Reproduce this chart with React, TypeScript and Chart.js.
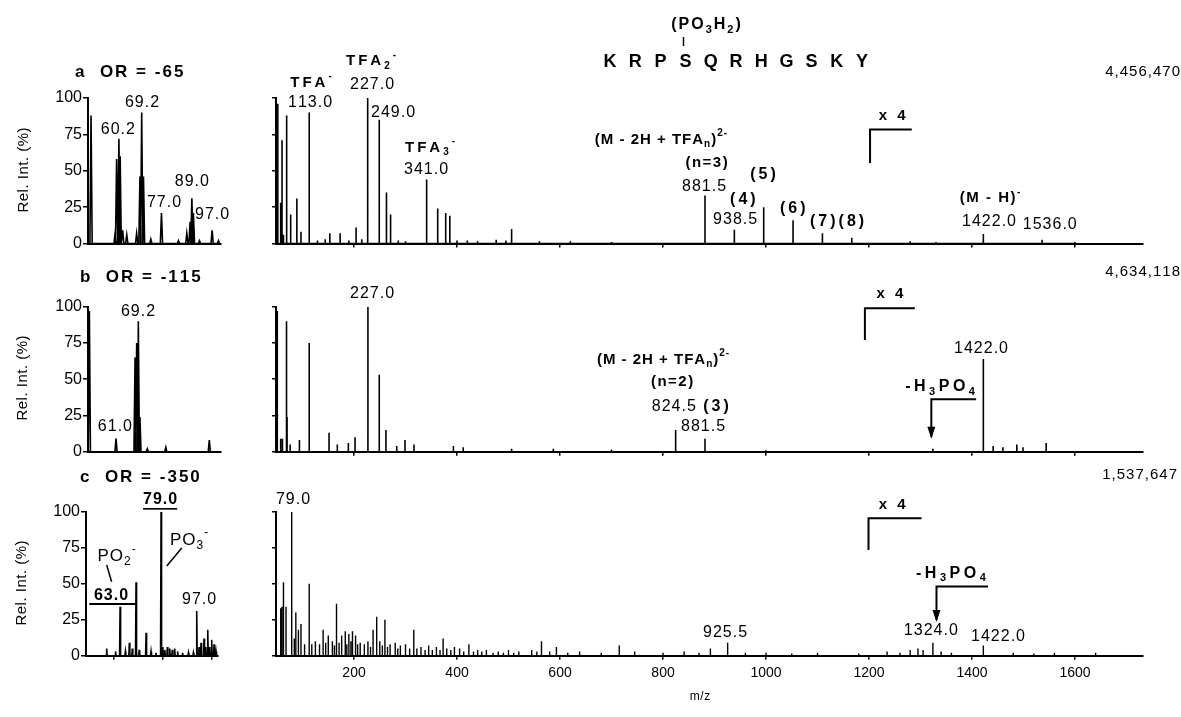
import React, { useEffect, useRef } from 'react';
import { Chart, registerables } from 'chart.js';

Chart.register(...registerables);

const PAGE_W = 1181;
const PAGE_H = 717;
const FONT = '"Liberation Sans", Arial, Helvetica, sans-serif';

// ---------- axis ticks ----------
const REL_INT_TICKS = [0, 25, 50, 75, 100];
const MZ_TICKS = [200, 400, 600, 800, 1000, 1200, 1400, 1600];
const LOW_MZ_TICKS_C = [55, 80, 105];
const NO_TICKS: number[] = [];

// ---------- peak lists: [m/z, relative intensity %] ----------
type Peak = [number, number];

const lowMzA: Peak[] = [
  [49.2, 88], [58.7, 7], [59.3, 58], [60.2, 72], [60.7, 60], [61.7, 9], [63.3, 6], [67.2, 7],
  [68.5, 46], [69.2, 90], [69.9, 46], [72.8, 3], [77.0, 21], [83.7, 2], [87.0, 7], [88.3, 15],
  [89.0, 31], [89.6, 21], [92.0, 2], [97.0, 9], [99.5, 2],
];

const fullMzA: Peak[] = [
  [52, 96], [57.6, 28], [60.2, 71], [63, 6], [69.2, 88], [77, 20], [89, 31], [97, 8], [113, 90],
  [129, 2], [144, 3], [153, 7], [173, 7], [190, 2], [204, 11], [215, 3], [225.8, 86], [227, 100],
  [249, 85], [263, 35], [271, 20], [286, 2], [300, 1.5], [341, 44], [362.5, 24], [378, 21],
  [386, 19], [400, 2], [420, 2], [440, 1.5], [476, 2.5], [495, 2], [506, 10], [560, 1.5],
  [620, 1.5], [700, 1], [881.5, 33], [938.5, 9.5], [995.5, 25], [1052.5, 16], [1109.5, 7],
  [1166.5, 4], [1280, 1.5], [1330, 1], [1422, 6.5], [1536, 2.5], [1600, 1],
];

const lowMzB: Peak[] = [
  [51.2, 97], [61.0, 9], [68.0, 65], [68.6, 75], [69.2, 90], [69.8, 24], [72.5, 2], [79.3, 3], [95.3, 8],
];

const fullMzB: Peak[] = [
  [51, 97], [57.6, 9], [61, 9], [68.5, 75], [69.2, 90], [70, 24], [76, 5], [94, 8], [113, 75],
  [151.5, 13], [167.6, 5], [189, 6], [202, 10], [227, 100], [249, 53], [262, 15], [283, 4],
  [299, 8], [316.5, 5], [393, 4], [412, 3], [506, 2], [587, 2], [700, 1.5], [824.5, 15],
  [881.5, 9], [1000, 1], [1324, 2], [1422, 64], [1441, 4], [1460, 3], [1487, 5], [1499, 3], [1544, 6],
];

const lowMzC: Peak[] = [
  [51.5, 5], [56, 3], [58.3, 34], [61, 3], [63.0, 9], [64.5, 5], [66.4, 51], [68, 4], [71.5, 16],
  [74, 3], [76.5, 2], [79.1, 100], [80, 6], [81, 4], [82.3, 6], [83.5, 5], [84.8, 4], [86, 5],
  [87.5, 3], [90, 2], [93, 2], [95.5, 2], [97.2, 31], [98.4, 6], [99.4, 9], [100.9, 12],
  [101.8, 6], [102.8, 18], [103.8, 6], [104.8, 11], [106, 8], [107, 3],
];

const fullMzC: Peak[] = [
  [57.7, 33], [60, 34], [63, 51], [68, 34], [79, 100], [84, 12], [87, 30], [92, 18], [97, 22], [104, 8],
  [113, 50], [118, 8], [125, 10], [133, 8], [140, 18], [145, 9], [150, 14], [158, 10], [162, 7], [166, 36],
  [171, 9], [176, 14], [183, 17], [186, 8], [190, 15], [194, 10], [197, 17], [203, 14], [207, 8], [212, 9],
  [220, 8], [227, 10], [232, 6], [237, 18], [244, 27], [250, 10], [255, 7], [260, 25], [265, 6], [270, 8],
  [280, 9], [285, 5], [290, 7], [300, 8], [308, 5], [316, 18], [322, 5], [330, 6], [338, 4], [345, 7],
  [352, 4], [360, 6], [367, 4], [373, 12], [380, 5], [388, 4], [395, 6], [405, 5], [413, 3], [423, 8],
  [432, 3], [440, 4], [448, 3], [457, 4], [470, 2], [480, 3], [490, 2], [500, 4], [510, 2], [520, 3],
  [545, 4], [555, 3], [564, 10], [580, 3], [593, 6], [615, 2], [638, 3], [680, 2], [715, 7], [745, 3],
  [800, 2], [841, 3], [870, 2], [892, 5], [925.5, 9], [960, 2], [1000, 2], [1050, 1.5], [1100, 2],
  [1180, 1.5], [1235, 3], [1260, 2], [1280, 4], [1295, 5], [1305, 4], [1324, 9], [1340, 3], [1360, 2],
  [1422, 7], [1480, 2], [1520, 1.5], [1560, 2], [1640, 2],
];

const PEPTIDE = 'KRPSQRHGSKY';
const TOTALS = ['4,456,470', '4,634,118', '1,537,647'];
const TITLES = ['a  OR = -65', 'b  OR = -115', 'c  OR = -350'];

// ---------- annotation helpers ----------
type TextAnn = {
  kind: 't'; text: string; x: number; y: number; px?: boolean; size?: number; bold?: boolean;
  align?: 'left' | 'center' | 'right'; sp?: number; ul?: boolean; rot?: number;
};
type LineAnn = { kind: 'l'; pts: [number, number][]; px?: boolean; w?: number; arrow?: boolean };
type Ann = TextAnn | LineAnn;

const T = (text: string, x: number, y: number, o: Partial<TextAnn> = {}): Ann => ({ kind: 't', text, x, y, ...o });
const L = (pts: [number, number][], o: Partial<LineAnn> = {}): Ann => ({ kind: 'l', pts, ...o });

const BOLD = { bold: true, size: 15, sp: 1.5 };
const WIDE = { bold: true, size: 15, sp: 3 };
const PAREN = { bold: true, size: 16, sp: 3 };
const LOSS = { bold: true, size: 16, sp: 3.5 };
const TITLE = { px: true, bold: true, size: 17, sp: 2, align: 'left' as const };

function parseRich(s: string) {
  const segs: { t: string; mode: number }[] = [];
  let i = 0;
  while (i < s.length) {
    const c = s[i];
    if ((c === '_' || c === '^') && i + 1 < s.length) {
      const mode = c === '_' ? -1 : 1;
      let t: string;
      if (s[i + 1] === '{') {
        const j = s.indexOf('}', i + 2);
        t = s.slice(i + 2, j);
        i = j + 1;
      } else {
        t = s[i + 1];
        i += 2;
      }
      segs.push({ t, mode });
    } else {
      let j = i;
      while (j < s.length && s[j] !== '_' && s[j] !== '^') j++;
      segs.push({ t: s.slice(i, j), mode: 0 });
      i = j;
    }
  }
  return segs;
}

function drawRich(ctx: CanvasRenderingContext2D, a: TextAnn, X: number, Y: number) {
  const size = a.size ?? 16;
  const weight = a.bold ? 'bold ' : '';
  const sp = a.sp ?? 1;
  const items: { ch: string; fs: number; dy: number; x: number }[] = [];
  let w = 0;
  for (const s of parseRich(a.text)) {
    const fs = s.mode === 0 ? size : Math.round(size * 0.68);
    ctx.font = `${weight}${fs}px ${FONT}`;
    for (const ch of s.t) {
      const cw = ctx.measureText(ch).width;
      items.push({ ch, fs, dy: s.mode === 0 ? 0 : s.mode > 0 ? -size * 0.42 : size * 0.32, x: w });
      w += cw + sp;
    }
  }
  w -= sp;
  const align = a.align ?? 'center';
  const x0 = align === 'left' ? 0 : align === 'right' ? -w : -w / 2;
  ctx.save();
  ctx.translate(X, Y);
  if (a.rot) ctx.rotate((a.rot * Math.PI) / 180);
  ctx.fillStyle = '#000';
  ctx.textBaseline = 'middle';
  ctx.textAlign = 'left';
  for (const it of items) {
    ctx.font = `${weight}${it.fs}px ${FONT}`;
    ctx.fillText(it.ch, x0 + it.x, it.dy);
  }
  if (a.ul) ctx.fillRect(x0, size * 0.5, w, 1.6);
  ctx.restore();
}

function drawLine(ctx: CanvasRenderingContext2D, pts: [number, number][], w: number, arrow?: boolean) {
  ctx.save();
  ctx.strokeStyle = '#000';
  ctx.fillStyle = '#000';
  ctx.lineWidth = w;
  ctx.beginPath();
  pts.forEach(([x, y], i) => (i ? ctx.lineTo(x, y) : ctx.moveTo(x, y)));
  ctx.stroke();
  if (arrow && pts.length > 1) {
    const [x1, y1] = pts[pts.length - 1];
    const [x0, y0] = pts[pts.length - 2];
    const ang = Math.atan2(y1 - y0, x1 - x0);
    const len = 10, hw = 4;
    ctx.beginPath();
    ctx.moveTo(x1 + Math.cos(ang) * 2, y1 + Math.sin(ang) * 2);
    ctx.lineTo(x1 - len * Math.cos(ang) + hw * Math.sin(ang), y1 - len * Math.sin(ang) - hw * Math.cos(ang));
    ctx.lineTo(x1 - len * Math.cos(ang) - hw * Math.sin(ang), y1 - len * Math.sin(ang) + hw * Math.cos(ang));
    ctx.closePath();
    ctx.fill();
  }
  ctx.restore();
}

function annotationPlugin(anns: Ann[]) {
  return {
    id: 'annots',
    afterDraw(chart: any) {
      const ctx: CanvasRenderingContext2D = chart.ctx;
      const xs = chart.scales.x;
      const ys = chart.scales.y;
      const toPx = (x: number, y: number, px?: boolean): [number, number] =>
        px ? [x, y] : [xs.getPixelForValue(x), ys.getPixelForValue(y)];
      for (const a of anns) {
        if (a.kind === 't') {
          const [X, Y] = toPx(a.x, a.y, a.px);
          drawRich(ctx, a, X, Y);
        } else {
          drawLine(ctx, a.pts.map(([x, y]) => toPx(x, y, a.px)), a.w ?? 2, a.arrow);
        }
      }
    },
  };
}

// ---------- annotations per panel ----------
const annLowA: Ann[] = [
  T(TITLES[0], 75, 72, TITLE),
  T('Rel. Int. (%)', 24, 170, { px: true, size: 15, sp: 0.5, rot: -90 }),
  T('60.2', 59.8, 78.3),
  T('69.2', 69.3, 96.9),
  T('77.0', 78, 27.9),
  T('89.0', 89, 42.4),
  T('97.0', 97, 19.7),
];

const annFullA: Ann[] = [
  T('TFA^-', 116.5, 110.5, WIDE),
  T('113.0', 114.6, 96.7),
  T('TFA_2^-', 233, 125.2, WIDE),
  T('227.0', 235, 109.3),
  T('249.0', 275.7, 89.8),
  T('TFA_3^-', 347.6, 65.7, WIDE),
  T('341.0', 339.8, 50.7),
  T('(M - 2H + TFA_n)^{2-}', 796, 71.4, { bold: true, size: 15, sp: 1 }),
  T('(n=3)', 884.5, 55.3, BOLD),
  T('881.5', 879.6, 39.2),
  T('(5)', 994, 47.2, PAREN),
  T('(4)', 955, 30.5, PAREN),
  T('938.5', 940, 16.2),
  T('(6)', 1052, 24.3, PAREN),
  T('(7)(8)', 1138, 15, PAREN),
  T('x 4', 1245, 87.4, WIDE),
  L([[1202, 55.3], [1202, 78.3], [1283, 78.3]], { w: 2 }),
  T('(M - H)^-', 1435, 31.2, BOLD),
  T('1422.0', 1433, 15),
  T('1536.0', 1551, 12.8),
  T(TOTALS[0], 1180, 72, { px: true, size: 15, align: 'right' }),
  T('(PO_3H_2)', 706, 25, { px: true, bold: true, size: 16, sp: 2 }),
  L([[683.5, 37], [683.5, 46]], { px: true, w: 1.5 }),
  ...PEPTIDE.split('').map((ch, i) => T(ch, 610 + i * 25.2, 62, { px: true, bold: true, size: 18, sp: 0 })),
];

const annLowB: Ann[] = [
  T(TITLES[1], 80, 277, TITLE),
  T('Rel. Int. (%)', 23, 378, { px: true, size: 15, sp: 0.5, rot: -90 }),
  T('69.2', 69.1, 96.4),
  T('61.0', 60.6, 17.2),
];

const annFullB: Ann[] = [
  T('227.0', 235, 109.2),
  T('(M - 2H + TFA_n)^{2-}', 800, 63.3, { bold: true, size: 15, sp: 1 }),
  T('(n=2)', 817.5, 48.3, BOLD),
  T('824.5', 821, 31),
  T('(3)', 903, 31, PAREN),
  T('881.5', 877.7, 17.2),
  T('-H_3PO_4', 1338, 44.7, LOSS),
  L([[1408, 36.1], [1321, 36.1], [1321, 10.3]], { w: 2, arrow: true }),
  T('1422.0', 1417.5, 71.3),
  T('x 4', 1240.8, 109.2, WIDE),
  L([[1192, 77], [1192, 98.9], [1289, 98.9]], { w: 2 }),
  T(TOTALS[1], 1180, 272, { px: true, size: 15, align: 'right' }),
];

const annLowC: Ann[] = [
  T(TITLES[2], 80, 477, TITLE),
  T('Rel. Int. (%)', 22, 583, { px: true, size: 15, sp: 0.5, rot: -90 }),
  T('79.0', 78.6, 108.1, { bold: true, size: 16, sp: 1, ul: true }),
  T('PO_3^-', 93.3, 80.4, { size: 17, sp: 1 }),
  L([[89.6, 74.8], [82, 62.3]], { w: 1.5 }),
  T('PO_2^-', 56.5, 68.8, { size: 17, sp: 1 }),
  L([[51.5, 63], [54, 51.4]], { w: 1.5 }),
  T('63.0', 53.7, 41.5, { bold: true, size: 16, sp: 1 }),
  L([[42.7, 35.9], [66.4, 35.9]], { w: 2 }),
  T('97.0', 98.4, 38.7),
];

const annFullC: Ann[] = [
  T('79.0', 81.6, 108.1),
  T('925.5', 920.4, 16),
  T('1324.0', 1320, 17.4),
  T('1422.0', 1450.5, 13.2),
  T('-H_3PO_4', 1359, 57.2, LOSS),
  L([[1431, 48], [1331, 48], [1331, 24.8]], { w: 2, arrow: true }),
  T('x 4', 1245, 104.7, WIDE),
  L([[1199, 73.4], [1199, 95.4], [1302, 95.4]], { w: 2 }),
  T(TOTALS[2], 1177, 475, { px: true, size: 15, align: 'right' }),
  T('m/z', 700, 697, { px: true, size: 12, sp: 0.5 }),
];

// ---------- panel layout ----------
type Rect = { l: number; t: number; r: number; b: number };

type PanelSpec = {
  peaks: Peak[];
  xMin: number;
  xMax: number;
  xTicks: number[];
  rect: Rect;
  yLabels: boolean;
  xLabels: boolean;
  halfWidth: number;
  lineWidth: number;
  anns: Ann[];
};

const PANELS: PanelSpec[] = [
  { peaks: lowMzA, xMin: 48, xMax: 100.5, xTicks: NO_TICKS, rect: { l: 88, t: 98, r: 221, b: 243.5 }, yLabels: true, xLabels: false, halfWidth: 0.45, lineWidth: 1.6, anns: annLowA },
  { peaks: fullMzA, xMin: 48.5, xMax: 1732, xTicks: MZ_TICKS, rect: { l: 276, t: 98, r: 1143, b: 243.5 }, yLabels: false, xLabels: false, halfWidth: 0, lineWidth: 1.6, anns: annFullA },
  { peaks: lowMzB, xMin: 50.7, xMax: 99.6, xTicks: NO_TICKS, rect: { l: 88, t: 306.7, r: 221, b: 451.7 }, yLabels: true, xLabels: false, halfWidth: 0.4, lineWidth: 1.6, anns: annLowB },
  { peaks: fullMzB, xMin: 48.5, xMax: 1732, xTicks: MZ_TICKS, rect: { l: 276, t: 306.7, r: 1143, b: 451.7 }, yLabels: false, xLabels: false, halfWidth: 0, lineWidth: 1.6, anns: annFullB },
  { peaks: lowMzC, xMin: 41, xMax: 108, xTicks: LOW_MZ_TICKS_C, rect: { l: 86, t: 511.7, r: 218, b: 655.7 }, yLabels: true, xLabels: false, halfWidth: 0.25, lineWidth: 1.6, anns: annLowC },
  { peaks: fullMzC, xMin: 48.5, xMax: 1732, xTicks: MZ_TICKS, rect: { l: 276, t: 511.7, r: 1143, b: 655.7 }, yLabels: false, xLabels: true, halfWidth: 0, lineWidth: 1.4, anns: annFullC },
];

const Y_AXIS_W = 40;
const X_AXIS_H = 30;

function Panel({ spec }: { spec: PanelSpec }) {
  const ref = useRef<HTMLCanvasElement>(null);
  useEffect(() => {
    if (!ref.current) return;
    const pts: { x: number; y: number }[] = [];
    const sorted = [...spec.peaks].sort((a, b) => a[0] - b[0]);
    for (const [m, h] of sorted) {
      pts.push({ x: m - spec.halfWidth, y: 0 }, { x: m, y: h }, { x: m + spec.halfWidth, y: 0 });
    }
    const r = spec.rect;
    const chart = new Chart(ref.current, {
      type: 'line',
      data: {
        datasets: [
          {
            data: pts,
            borderColor: '#000',
            borderWidth: spec.lineWidth,
            pointRadius: 0,
            tension: 0,
            fill: false,
          } as any,
        ],
      },
      options: {
        animation: false,
        responsive: false,
        devicePixelRatio: 1,
        events: [],
        layout: {
          padding: {
            left: r.l - Y_AXIS_W,
            top: r.t,
            right: PAGE_W - r.r,
            bottom: PAGE_H - r.b - X_AXIS_H,
          },
        },
        plugins: { legend: { display: false }, tooltip: { enabled: false }, title: { display: false } },
        scales: {
          x: {
            type: 'linear',
            min: spec.xMin,
            max: spec.xMax,
            afterBuildTicks: (ax: any) => {
              ax.ticks = spec.xTicks.map((v) => ({ value: v }));
            },
            afterFit: (ax: any) => {
              ax.height = X_AXIS_H;
            },
            grid: { display: true, drawOnChartArea: false, drawTicks: true, tickLength: 4, color: '#000', lineWidth: 1.5 },
            border: { display: true, color: '#000', width: 2 },
            ticks: {
              display: spec.xLabels,
              color: '#000',
              font: { family: FONT, size: 14 },
              padding: 5,
              maxRotation: 0,
              autoSkip: false,
              callback: (v: any) => String(v),
            },
          },
          y: {
            type: 'linear',
            min: 0,
            max: 100,
            afterBuildTicks: (ax: any) => {
              ax.ticks = REL_INT_TICKS.map((v) => ({ value: v }));
            },
            afterFit: (ax: any) => {
              ax.width = Y_AXIS_W;
            },
            grid: { display: true, drawOnChartArea: false, drawTicks: true, tickLength: spec.yLabels ? 5 : 4, color: '#000', lineWidth: 1.5 },
            border: { display: true, color: '#000', width: 2 },
            ticks: {
              display: spec.yLabels,
              color: '#000',
              font: { family: FONT, size: 16 },
              padding: 1,
              callback: (v: any) => String(v),
            },
          },
        },
      } as any,
      plugins: [annotationPlugin(spec.anns) as any],
    });
    return () => chart.destroy();
  }, [spec]);
  return (
    <canvas
      ref={ref}
      width={PAGE_W}
      height={PAGE_H}
      style={{ position: 'absolute', left: 0, top: 0, width: PAGE_W, height: PAGE_H }}
    />
  );
}

export default function App() {
  return (
    <div
      style={{
        position: 'absolute',
        left: 0,
        top: 0,
        width: PAGE_W,
        height: PAGE_H,
        background: '#fff',
        overflow: 'hidden',
      }}
    >
      {PANELS.map((p, i) => (
        <Panel key={i} spec={p} />
      ))}
    </div>
  );
}
